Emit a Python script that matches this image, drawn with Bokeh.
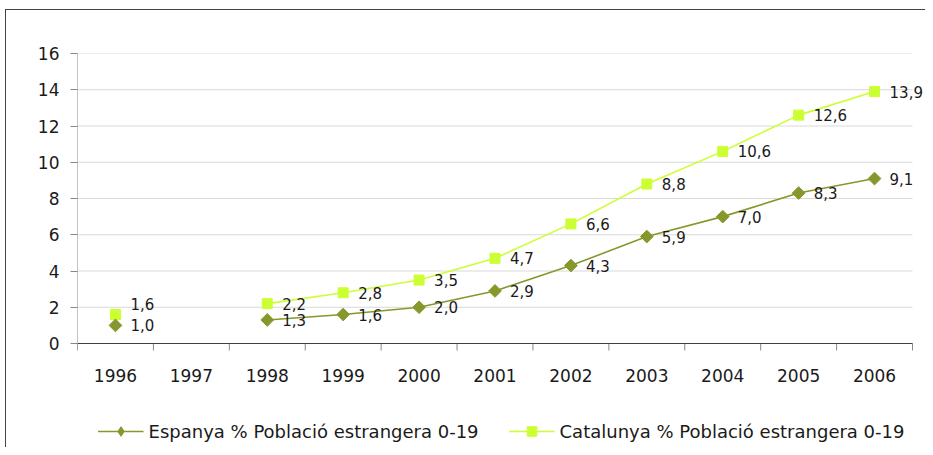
from bokeh.plotting import figure
from bokeh.models import ColumnDataSource, FixedTicker, Range1d, Legend, LegendItem
from bokeh.core.properties import value
from bokeh.embed import file_html
from bokeh.resources import INLINE
import numpy as np

years = ["1996", "1997", "1998", "1999", "2000", "2001", "2002", "2003", "2004", "2005", "2006"]
espanya = [1.0, None, 1.3, 1.6, 2.0, 2.9, 4.3, 5.9, 7.0, 8.3, 9.1]
catalunya = [1.6, None, 2.2, 2.8, 3.5, 4.7, 6.6, 8.8, 10.6, 12.6, 13.9]
y_ticks = [0, 2, 4, 6, 8, 10, 12, 14, 16]
label_up_esp = [0, 0, 0, 0, 0, 0, 0, 0, 0, 0, 0]
label_up_cat = [11, 0, 0, 0, 0, 0, 0, 0, 0, 0, 0]

ESP_COLOR = "#86982C"
CAT_COLOR = "#CCFF33"
FONT = "DejaVu Sans"
TXT = "#1a1a1a"

# geometry (pixels)
PX_PER_Y = 290 / 16.0        # plot area 290 px high for 0..16
PX_PER_X = 835 / 11.0        # 11 categories over 835 px
FRAME_W, FRAME_H = 848, 394  # frame also hosts x-axis labels and legend
n = len(years)
y_lo = 16 - FRAME_H / PX_PER_Y
x_hi = FRAME_W / PX_PER_X
TICK = 7 / PX_PER_Y

def fmt(v):
    return ("%.1f" % v).replace(".", ",")

xs = [i + 0.5 for i in range(n)]

def src(vals, ups):
    x = [xs[i] for i, v in enumerate(vals) if v is not None]
    y = [v for v in vals if v is not None]
    lab = [fmt(v) for v in vals if v is not None]
    dy = [-ups[i] for i, v in enumerate(vals) if v is not None]
    return ColumnDataSource(dict(x=x, y=y, lab=lab, dy=dy))

p = figure(frame_width=FRAME_W, frame_height=FRAME_H, output_backend="svg", toolbar_location=None,
           x_range=Range1d(0, x_hi), y_range=Range1d(y_lo, 16),
           min_border_left=71, min_border_right=0, min_border_top=43, min_border_bottom=0)
p.styles = {"margin-left": "5px", "margin-top": "9px",
            "border-top": "1px solid #444", "border-left": "1px solid #444"}
p.outline_line_color = None
p.background_fill_color = "white"
p.xaxis.visible = False
p.xgrid.grid_line_color = None
p.ygrid.grid_line_color = None

# horizontal gridlines
gy = [t for t in y_ticks if t > 0]
p.segment(x0=[0] * len(gy), y0=gy, x1=[n] * len(gy), y1=gy, line_color="#D9D9D9", line_width=1)
# y axis line
p.segment(x0=[0], y0=[-TICK], x1=[0], y1=[16], line_color="#888888", line_width=1)
# x axis line + category boundary ticks
p.segment(x0=list(range(n + 1)), y0=[0] * (n + 1), x1=list(range(n + 1)), y1=[-TICK] * (n + 1),
          line_color="#888888", line_width=1)
p.segment(x0=[0], y0=[0], x1=[n], y1=[0], line_color="#404040", line_width=1.2)
# category labels
p.text(x=xs, y=[0] * n, text=years, y_offset=32, text_align="center", text_baseline="middle",
       text_font=value(FONT), text_font_size="17px", text_color=TXT)

s_esp = src(espanya, label_up_esp)
s_cat = src(catalunya, label_up_cat)

def line_segments(vals):
    xx = [xs[i] if v is not None else np.nan for i, v in enumerate(vals)]
    yy = [v if v is not None else np.nan for v in vals]
    return xx, yy

ex, ey = line_segments(espanya)
cx, cy = line_segments(catalunya)

l_cat = p.line(cx, cy, line_color=CAT_COLOR, line_width=1.6)
m_cat = p.scatter("x", "y", source=s_cat, marker="square", size=10, fill_color=CAT_COLOR, line_color=CAT_COLOR)
l_esp = p.line(ex, ey, line_color=ESP_COLOR, line_width=1.6)
m_esp = p.scatter("x", "y", source=s_esp, marker="square", angle=np.pi / 4, size=9,
                  fill_color=ESP_COLOR, line_color=ESP_COLOR)
# legend-only diamond (legend glyphs are drawn unrotated)
m_esp_leg = p.scatter(x=[np.nan], y=[np.nan], marker="diamond", size=12,
                      fill_color=ESP_COLOR, line_color=ESP_COLOR)

for s in (s_esp, s_cat):
    p.text("x", "y", text="lab", source=s, x_offset=15, y_offset="dy",
           text_font=value(FONT), text_font_size="15px", text_baseline="middle",
           text_align="left", text_color=TXT)

# y axis (ticks + labels only)
p.yaxis.ticker = FixedTicker(ticks=y_ticks)
p.yaxis.axis_line_color = None
p.yaxis.minor_tick_line_color = None
p.yaxis.major_tick_out = 7
p.yaxis.major_tick_in = 0
p.yaxis.major_tick_line_color = "#888888"
p.yaxis.major_label_standoff = 11
p.yaxis.major_label_text_font = FONT
p.yaxis.major_label_text_font_size = "17px"
p.yaxis.major_label_text_color = TXT

legend = Legend(items=[
    LegendItem(label="Espanya % Població estrangera 0-19", renderers=[l_esp, m_esp_leg]),
    LegendItem(label="Catalunya % Població estrangera 0-19", renderers=[l_cat, m_cat]),
], orientation="horizontal", location="bottom_center")
legend.border_line_color = None
legend.background_fill_alpha = 0
legend.label_text_font = FONT
legend.label_text_font_size = "18px"
legend.label_text_color = TXT
legend.glyph_width = 46
legend.glyph_height = 24
legend.label_height = 24
legend.label_standoff = 5
legend.spacing = 30
legend.margin = 4
legend.padding = 0
p.add_layout(legend)

open("out.html", "w").write(file_html(p, INLINE))
